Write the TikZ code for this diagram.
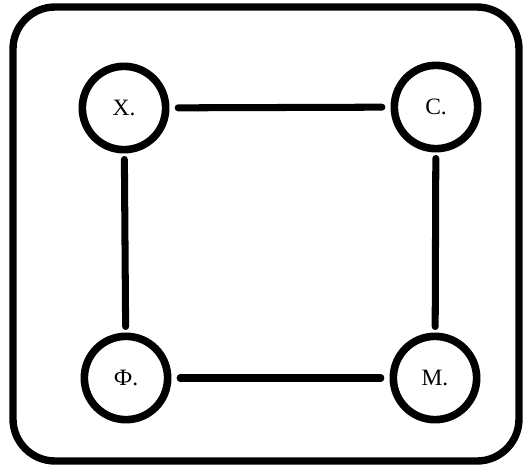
\documentclass[tikz,border=0pt]{standalone}
\usepackage{fontspec}
\setmainfont{Liberation Serif}
\usetikzlibrary{arrows}

\begin{document}
\begin{tikzpicture}[x=0.03cm,y=-0.03cm,line width=6.3pt,
	element/.style={circle,draw,line width=6.5pt,minimum size=2.5cm,inner sep=0pt,font=\fontsize{20}{24}\selectfont},
	link/.style={line width=6pt,line cap=round}]
\useasboundingbox (0,0) rectangle (523,465);
\draw[rounded corners=1.26cm] (13,7) rectangle (519,461);

\node[element] (X) at (124,108) {Х.};
\node[element] (C) at (436,107) {С.};
\node[element] (F) at (126,378) {Ф.};
\node[element] (M) at (435,378) {М.};

\path[link,shorten <=0.26cm,shorten >=0.26cm]
	(X) edge (C)
	(F) edge (M);
\path[link,shorten <=0.18cm,shorten >=0.18cm]
	(X) edge (F)
	(C) edge (M);
\end{tikzpicture}
\end{document}
